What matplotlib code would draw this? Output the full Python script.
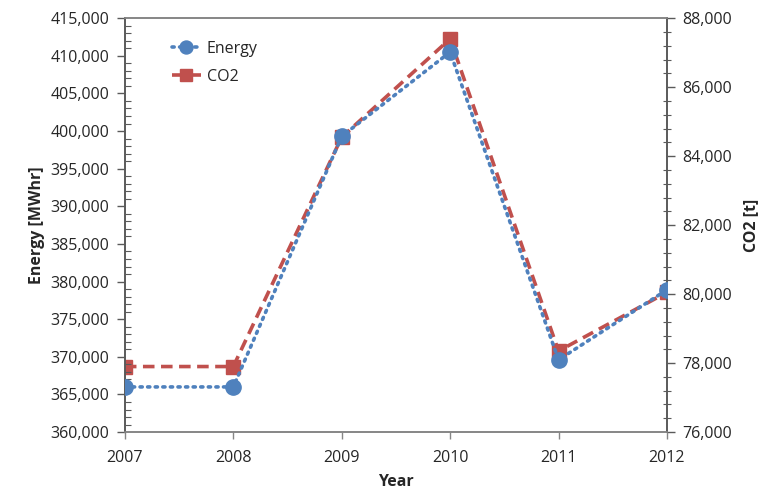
import matplotlib
matplotlib.use("Agg")
import matplotlib.pyplot as plt
from matplotlib.ticker import MultipleLocator, FuncFormatter

years = [2007, 2008, 2009, 2010, 2011, 2012]
energy_mwhr = [366000, 366000, 399300, 410500, 369600, 378900]
co2_t = [77900, 77900, 84550, 87400, 78350, 80050]

blue = "#4F81BD"
red = "#C0504D"
grey = "#868686"
dark = "#5a5a5a"
txt = "#262626"

plt.rcParams["font.family"] = ["Open Sans", "DejaVu Sans"]
fs = 11.5

fig = plt.figure(figsize=(7.71, 4.91), dpi=100)
ax = fig.add_axes([0.162, 0.120, 0.703, 0.843])
ax2 = ax.twinx()

thousands = FuncFormatter(lambda v, p: f"{int(round(v)):,}")

l1, = ax.plot(years, energy_mwhr, color=blue, linestyle=(0, (0.6, 1.5)),
              dash_capstyle="round", linewidth=2.6, marker="o", markersize=11,
              markeredgecolor=blue, markerfacecolor=blue, label="Energy", zorder=3)
l2, = ax2.plot(years, co2_t, color=red, linestyle=(0, (3.2, 1.8)),
               linewidth=2.6, marker="s", markersize=9.5,
               markeredgecolor=red, markerfacecolor=red, label="CO2", zorder=2)

ax.set_xlim(2007, 2012)
ax.set_ylim(360000, 415000)
ax2.set_ylim(76000, 88000)

ax.set_xticks(years)
ax.yaxis.set_major_locator(MultipleLocator(5000))
ax.yaxis.set_minor_locator(MultipleLocator(1000))
ax.yaxis.set_major_formatter(thousands)
ax2.yaxis.set_major_locator(MultipleLocator(2000))
ax2.yaxis.set_minor_locator(MultipleLocator(400))
ax2.yaxis.set_major_formatter(thousands)

for a in (ax, ax2):
    for s in a.spines.values():
        s.set_color(grey)
        s.set_linewidth(1.2)
    a.spines["left"].set_color(dark)
    a.spines["right"].set_color(dark)
    a.tick_params(which="major", direction="out", length=6, width=1, color=dark,
                  labelsize=fs, labelcolor=txt, pad=5)
ax.tick_params(axis="y", which="minor", direction="in", length=4, width=0.8, color=dark)
ax2.tick_params(axis="y", which="minor", direction="inout", length=6, width=0.8, color=dark)
ax.tick_params(axis="x", which="major", length=5, color=grey, pad=8)

ax.set_xlabel("Year", fontsize=fs, fontweight="bold", color=txt, labelpad=6)
ax.set_ylabel("Energy [MWhr]", fontsize=fs, fontweight="bold", color=txt, labelpad=4)
ax2.set_ylabel("CO2 [t]", fontsize=fs, fontweight="bold", color=txt, labelpad=8)

ax.set_zorder(ax2.get_zorder() + 1)
ax.patch.set_visible(False)

leg = ax.legend(handles=[l1, l2], loc="upper left", bbox_to_anchor=(0.06, 0.98),
                frameon=False, fontsize=fs, handlelength=1.8, handletextpad=0.4,
                labelspacing=0.75, markerscale=0.85)
for t in leg.get_texts():
    t.set_color(txt)

fig.savefig("out.png", dpi=100, facecolor="white")
